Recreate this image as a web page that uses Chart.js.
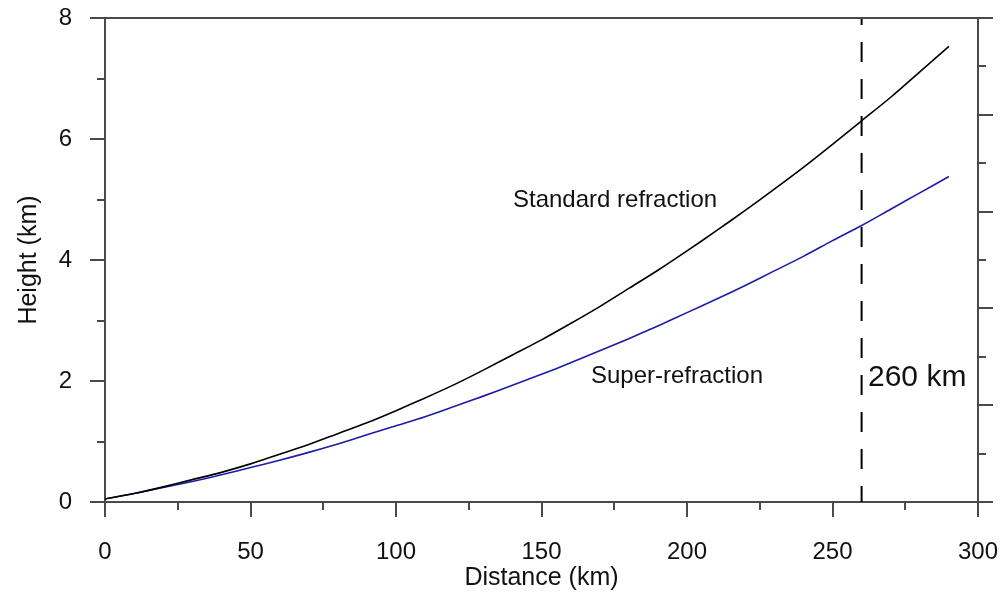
<!DOCTYPE html>
<html>
<head>
<meta charset="utf-8">
<title>Height vs distance</title>
<script src="https://cdn.jsdelivr.net/npm/chart.js@4/dist/chart.umd.min.js"></script>
<style>
 html, body { margin: 0; padding: 0; background: #fff; }
 canvas { display: block; }
</style>
</head>
<body>
<canvas id="refractionChart" width="1003" height="593"></canvas>
<script>
// distance along the beam (km)
var distances = [0, 10, 20, 30, 40, 50, 60, 70, 80, 90, 100, 110, 120, 130, 140,
 150, 160, 170, 180, 190, 200, 210, 220, 230, 240, 250, 260, 270, 280, 290];

// beam height (km)
var standardHeights = [0.05, 0.14, 0.25, 0.37, 0.49, 0.63, 0.79, 0.95, 1.13, 1.31,
 1.51, 1.72, 1.94, 2.18, 2.43, 2.68, 2.95, 3.23, 3.53, 3.83, 4.15, 4.48, 4.82,
 5.17, 5.53, 5.91, 6.30, 6.69, 7.11, 7.53];
var superHeights = [0.05, 0.14, 0.24, 0.34, 0.45, 0.57, 0.69, 0.82, 0.96, 1.11,
 1.26, 1.41, 1.58, 1.75, 1.93, 2.11, 2.30, 2.50, 2.70, 2.91, 3.13, 3.35, 3.58,
 3.82, 4.06, 4.32, 4.57, 4.84, 5.11, 5.38];

var markerDistance = 260;
var xMinorTicks = [25, 75, 125, 175, 225, 275];
var yMinorTicks = [1, 3, 5, 7];
var y2MinorTicks = [1, 3, 5, 7, 9];

var FONT = "'Liberation Sans', Arial, sans-serif";
var AXIS_COLOR = "#4a4a4a";

function toPoints(xs, ys) {
 return xs.map(function (x, i) {
  return { x: x, y: ys[i] };
 });
}

// keep the plot box fixed: no extra room for overhanging tick labels
function fixWidth(w) {
 return function (scale) {
  scale.width = w;
  scale.paddingTop = 0;
  scale.paddingBottom = 0;
 };
}

// minor ticks, top frame line and the in-plot text
var decorPlugin = {
 id: "decor",
 afterDraw: function (chart) {
  var ctx = chart.ctx;
  var area = chart.chartArea;
  var xs = chart.scales.x;
  var ys = chart.scales.y;
  var y2s = chart.scales.y2;

  ctx.save();
  ctx.strokeStyle = AXIS_COLOR;
  ctx.lineWidth = 2;
  ctx.beginPath();
  ctx.moveTo(area.left, area.top);
  ctx.lineTo(area.right, area.top);

  xMinorTicks.forEach(function (v) {
   var px = Math.round(xs.getPixelForValue(v));
   ctx.moveTo(px, area.bottom);
   ctx.lineTo(px, area.bottom + 8);
  });
  yMinorTicks.forEach(function (v) {
   var py = Math.round(ys.getPixelForValue(v));
   ctx.moveTo(area.left, py);
   ctx.lineTo(area.left - 8, py);
  });
  y2MinorTicks.forEach(function (v) {
   var py = Math.round(y2s.getPixelForValue(v));
   ctx.moveTo(area.right, py);
   ctx.lineTo(area.right + 8, py);
  });
  ctx.stroke();

  ctx.fillStyle = "#111";
  ctx.textBaseline = "middle";
  ctx.textAlign = "left";
  ctx.font = "24px " + FONT;
  ctx.fillText("Standard refraction", xs.getPixelForValue(140.2), ys.getPixelForValue(4.98));
  ctx.fillText("Super-refraction", xs.getPixelForValue(167), ys.getPixelForValue(2.07));
  ctx.font = "30px " + FONT;
  ctx.fillText(markerDistance + " km", xs.getPixelForValue(262.2), ys.getPixelForValue(2.05));
  ctx.restore();
 },
};

var chartDiv = document.querySelector("#refractionChart");

new Chart(chartDiv, {
 type: "scatter",
 data: {
  datasets: [
   {
    label: "Standard refraction",
    data: toPoints(distances, standardHeights),
    showLine: true,
    borderColor: "#000000",
    borderWidth: 1.6,
    pointRadius: 0,
    tension: 0.3,
   },
   {
    label: "Super-refraction",
    data: toPoints(distances, superHeights),
    showLine: true,
    borderColor: "#1c1ca6",
    borderWidth: 1.6,
    pointRadius: 0,
    tension: 0.3,
   },
   {
    label: "260 km",
    data: [
     { x: markerDistance, y: 8 },
     { x: markerDistance, y: 0 },
    ],
    showLine: true,
    borderColor: "#000000",
    borderWidth: 2,
    borderDash: [20, 17],
    borderDashOffset: 13,
    pointRadius: 0,
   },
  ],
 },
 options: {
  responsive: false,
  animation: false,
  devicePixelRatio: 1,
  layout: {
   padding: { top: 18, right: 0, bottom: 0, left: 0 },
  },
  plugins: {
   legend: { display: false },
   tooltip: { enabled: false },
  },
  scales: {
   x: {
    type: "linear",
    position: "bottom",
    min: 0,
    max: 300,
    afterFit: function (scale) {
     scale.height = 91;
     scale.paddingLeft = 0;
     scale.paddingRight = 0;
    },
    ticks: {
     stepSize: 50,
     autoSkip: false,
     maxRotation: 0,
     padding: 21,
     color: "#111",
     font: { family: FONT, size: 24 },
    },
    grid: {
     drawOnChartArea: false,
     tickLength: 15,
     lineWidth: 2,
     color: AXIS_COLOR,
    },
    border: { color: AXIS_COLOR, width: 2 },
    title: {
     display: true,
     text: "Distance (km)",
     color: "#111",
     font: { family: FONT, size: 25 },
     padding: { top: 0, bottom: 0 },
    },
   },
   y: {
    type: "linear",
    position: "left",
    min: 0,
    max: 8,
    afterFit: fixWidth(105),
    ticks: {
     stepSize: 2,
     padding: 18,
     color: "#111",
     font: { family: FONT, size: 24 },
    },
    grid: {
     drawOnChartArea: false,
     tickLength: 15,
     lineWidth: 2,
     color: AXIS_COLOR,
    },
    border: { color: AXIS_COLOR, width: 2 },
    title: {
     display: true,
     text: "Height (km)",
     color: "#111",
     font: { family: FONT, size: 25 },
     padding: { top: 14, bottom: 0 },
    },
   },
   y2: {
    type: "linear",
    position: "right",
    min: 0,
    max: 10,
    afterFit: fixWidth(25),
    ticks: {
     stepSize: 2,
     display: false,
    },
    grid: {
     drawOnChartArea: false,
     tickLength: 15,
     lineWidth: 2,
     color: AXIS_COLOR,
    },
    border: { color: AXIS_COLOR, width: 2 },
   },
  },
 },
 plugins: [decorPlugin],
});
</script>
</body>
</html>
